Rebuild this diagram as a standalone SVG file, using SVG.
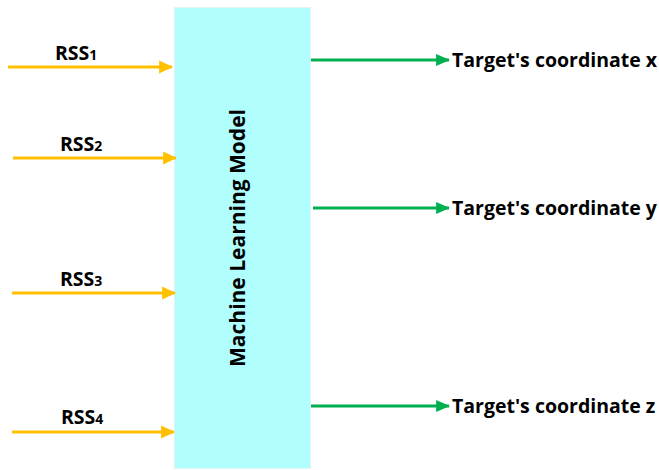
<svg xmlns="http://www.w3.org/2000/svg" width="659" height="470" viewBox="0 0 659 470">
<style>
.lbl{font-family:"Open Sans","Liberation Sans",sans-serif;font-weight:bold;font-size:19.5px;fill:#000}
.rss{font-size:19.5px}
.sub{font-size:14px}
.in{stroke:#FFC000;stroke-width:3;fill:none}
.out{stroke:#00B050;stroke-width:3;fill:none}
</style>
<defs>
<marker id="ah-o" markerWidth="4.6" markerHeight="4.4" refX="4.3" refY="2.2" orient="auto" markerUnits="strokeWidth"><path d="M0,0 L4.6,2.2 L0,4.4 Z" fill="#FFC000"/></marker>
<marker id="ah-g" markerWidth="4.6" markerHeight="4" refX="4.3" refY="2" orient="auto" markerUnits="strokeWidth"><path d="M0,0 L4.6,2 L0,4 Z" fill="#00B050"/></marker>
</defs>
<rect width="659" height="470" fill="#fff"/>
<g id="model">
<rect x="174.5" y="7.5" width="136" height="461" fill="#B0FEFE" stroke="#E4F2F2" stroke-width="1"/>
<text class="lbl" style="font-size:21px" text-anchor="middle" transform="translate(245,238) rotate(-90)">Machine Learning Model</text>
</g>
<g id="connectors">
<line class="in" x1="8" y1="67" x2="172" y2="67" marker-end="url(#ah-o)"/>
<line class="in" x1="13" y1="158" x2="176" y2="158" marker-end="url(#ah-o)"/>
<line class="in" x1="12" y1="293" x2="175" y2="293" marker-end="url(#ah-o)"/>
<line class="in" x1="12" y1="432" x2="174" y2="432" marker-end="url(#ah-o)"/>
<line class="out" x1="311" y1="60" x2="449" y2="60" marker-end="url(#ah-g)"/>
<line class="out" x1="313" y1="208" x2="449" y2="208" marker-end="url(#ah-g)"/>
<line class="out" x1="311" y1="406" x2="449" y2="406" marker-end="url(#ah-g)"/>
</g>
<g id="rss1"><text class="lbl rss" x="55" y="60">RSS<tspan class="sub">1</tspan></text></g>
<g id="rss2"><text class="lbl rss" x="60" y="151">RSS<tspan class="sub">2</tspan></text></g>
<g id="rss3"><text class="lbl rss" x="60" y="286">RSS<tspan class="sub">3</tspan></text></g>
<g id="rss4"><text class="lbl rss" x="61" y="424">RSS<tspan class="sub">4</tspan></text></g>
<g id="tx"><text class="lbl" x="452" y="67">Target's coordinate x</text></g>
<g id="ty"><text class="lbl" x="452" y="215">Target's coordinate y</text></g>
<g id="tz"><text class="lbl" x="452" y="413">Target's coordinate z</text></g>
</svg>
